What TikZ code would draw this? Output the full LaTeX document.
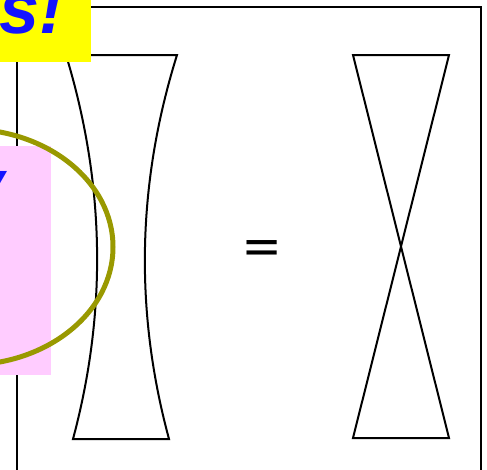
\documentclass[tikz,border=0pt]{standalone}
\usepackage{fontspec}
\usepackage{graphicx}
\setmainfont{Liberation Sans}
\definecolor{hlyellow}{RGB}{255,255,0}
\definecolor{hlpink}{RGB}{255,204,255}
\definecolor{txtblue}{RGB}{20,20,255}
\definecolor{olivering}{RGB}{153,153,0}
\tikzset{
  frameline/.style={line width=2.2pt,black},
  lensline/.style={line width=2pt,black,line join=miter},
  slidetext/.style={text=txtblue,font=\fontsize{72}{80}\selectfont\bfseries\itshape,inner sep=0pt},
}
\begin{document}
\begin{tikzpicture}[x=1pt,y=-1pt]
\useasboundingbox (0,0) rectangle (487,469);
\clip (0,0) rectangle (487,469);
% frame
\draw[frameline] (17,480) -- (17,7) -- (481,7) -- (481,480);
% concave lens
\draw[lensline] (66,55) -- (177,55) .. controls (137,183) and (134.33,311) .. (169,439) -- (73,439) .. controls (107.33,311) and (105,183) .. cycle;
% equals sign
\node[font=\fontsize{64}{70}\selectfont\bfseries,inner sep=0pt,anchor=base] (eq) at (262.5,260) {\scalebox{0.94}[0.6]{=}};
% hourglass
\draw[lensline] (353,55) -- (449,55) -- (353,438) -- (449,438) -- cycle;
% yellow label
\fill[hlyellow] (-5,-5) rectangle (91,61.7);
\node[slidetext,anchor=base east] (yes) at (64,33.5) {es!};
% pink label
\fill[hlpink] (-5,146) rectangle (51,375);
\node[slidetext,anchor=base east] (why) at (5,209.5) {y};
% ellipse
\draw[olivering,line width=5pt] (-33,247) ellipse [x radius=146, y radius=118];
\end{tikzpicture}
\end{document}
